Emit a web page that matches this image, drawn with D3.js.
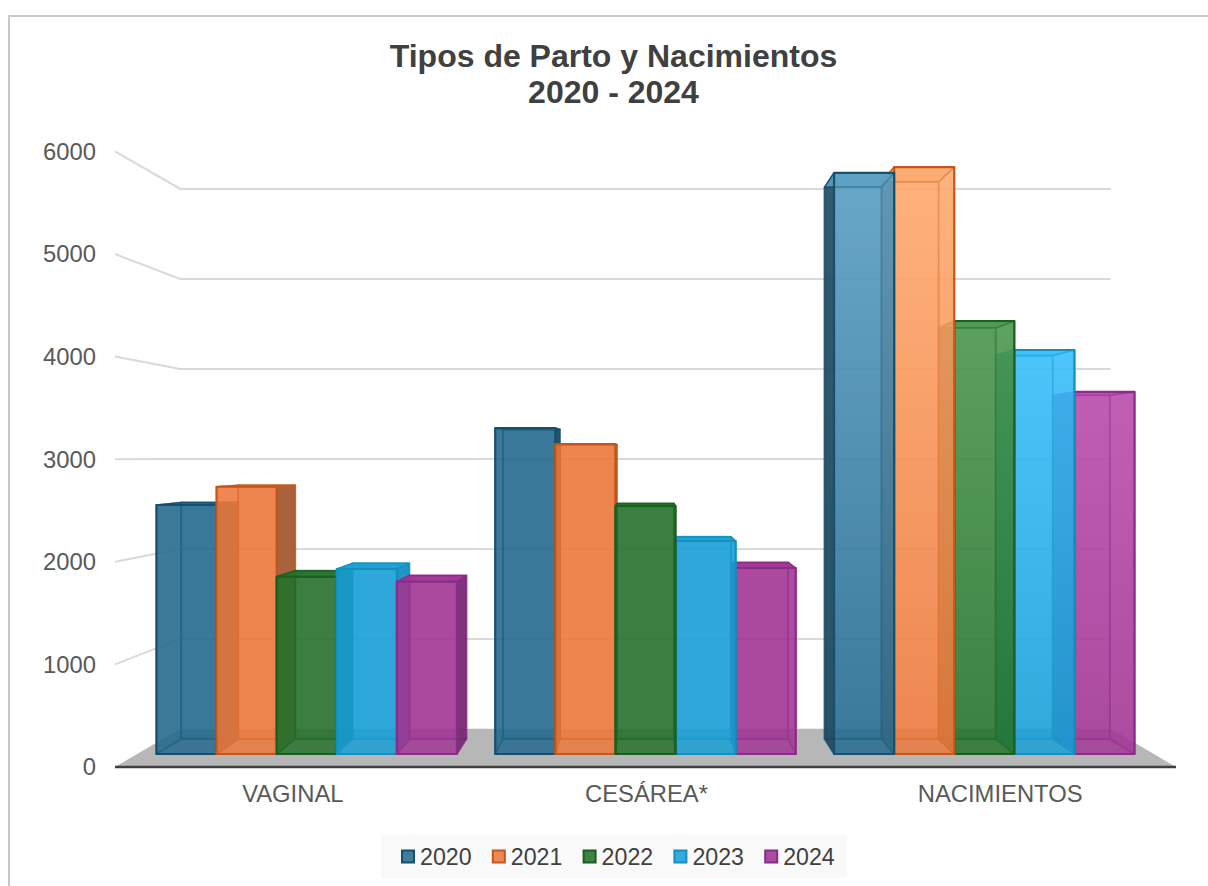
<!DOCTYPE html>
<html><head><meta charset="utf-8">
<script src="https://d3js.org/d3.v7.min.js"></script>
<style>html,body{margin:0;padding:0;background:#fff}svg{display:block}</style></head>
<body><svg id="c" width="1208" height="886"></svg>
<script>
const categories = ["VAGINAL", "CESÁREA*", "NACIMIENTOS"];
const years = ["2020", "2021", "2022", "2023", "2024"];
const v2020 = [2533, 3316, 5913];
const v2021 = [2719, 3153, 5971];
const v2022 = [1803, 2523, 4405];
const v2023 = [1882, 2167, 4110];
const v2024 = [1753, 1892, 3683];
const seriesValues = [v2020, v2021, v2022, v2023, v2024];
const yTicks = [0, 1000, 2000, 3000, 4000, 5000, 6000];
const titleLines = ["Tipos de Parto y Nacimientos", "2020 - 2024"];
const baseColors = ["rgb(36,105,142)", "rgb(236,120,60)", "rgb(36,114,43)", "rgb(24,159,214)", "rgb(160,54,147)"];
const lightColors = ["rgb(89,158,194)", "rgb(255,170,110)", "rgb(74,150,78)", "rgb(56,190,250)", "rgb(185,74,172)"];
const sideColors = ["rgb(30,66,84)", "rgb(150,84,48)", "rgb(24,84,30)", "rgb(20,140,190)", "rgb(110,40,105)"];
const edgeColors = ["#15506f", "#c5561b", "#1a5e20", "#1290c0", "#8c2a8c"];
const gradientCategory = "NACIMIENTOS";

const svg = d3.select("#c");
const FONT = '"Liberation Sans", Arial, sans-serif';
const vp = [645.5, 457];
const depth = {front: 1, barFront: 0.958, barBack: 0.9097, wall: 0.877};
const xGroup = d3.scaleBand().domain(categories).range([115, 1176]);
const xSeries = d3.scaleBand().domain(years).range([20, xGroup.bandwidth() - 20]);
const yScale = d3.scaleLinear().domain([0, 6000]).range([767, 151.4]);
const proj = (X, v, f) => [vp[0] + (X - vp[0]) * f, vp[1] + (yScale(v) - vp[1]) * f];
const pts = a => a.map(p => p.join(",")).join(" ");

svg.append("rect").attr("x", 9).attr("y", 16).attr("width", 1300).attr("height", 900)
  .attr("fill", "#fff").attr("stroke", "#c8c8c8").attr("stroke-width", 2);

// floor
svg.append("polygon").attr("fill", "#b7b7b7").attr("points", pts([
  proj(115, 0, 1), proj(1176, 0, 1), proj(1176, 0, depth.wall), proj(115, 0, depth.wall)]));

// grid
yTicks.filter(d => d > 0).forEach(t => {
  svg.append("polyline").attr("fill", "none").attr("stroke", "#d9d9d9").attr("stroke-width", 2)
    .attr("points", pts([proj(115, t, 1), proj(115, t, depth.wall), proj(1176, t, depth.wall)]));
});

// bars: painted from farthest from the vanishing point to nearest
const defs = svg.append("defs");
const barList = [];
categories.forEach((cat, ci) => {
  years.forEach((yr, si) => {
    const X0 = xGroup(cat) + xSeries(yr);
    barList.push({cat, yr, si, val: seriesValues[si][ci], X0, X1: X0 + xSeries.bandwidth()});
  });
});
barList.sort((a, b) => Math.abs((b.X0 + b.X1) / 2 - vp[0]) - Math.abs((a.X0 + a.X1) / 2 - vp[0]));
barList.forEach(({cat, si, val, X0, X1}) => {
  const F = depth.barFront, B = depth.barBack;
  const q = {
    f00: proj(X0, 0, F), f10: proj(X1, 0, F), f11: proj(X1, val, F), f01: proj(X0, val, F),
    b00: proj(X0, 0, B), b10: proj(X1, 0, B), b11: proj(X1, val, B), b01: proj(X0, val, B)
  };
  let fill = baseColors[si];
  if (cat === gradientCategory) {
    const id = "g" + si;
    const g = defs.append("linearGradient").attr("id", id).attr("gradientUnits", "userSpaceOnUse")
      .attr("x1", 0).attr("x2", 0).attr("y1", q.f01[1]).attr("y2", q.f00[1]);
    g.append("stop").attr("offset", 0).attr("stop-color", lightColors[si]);
    g.append("stop").attr("offset", 1).attr("stop-color", baseColors[si]);
    fill = `url(#${id})`;
  }
  const G = svg.append("g").attr("stroke", edgeColors[si]).attr("stroke-linejoin", "round");
  const face = (arr, color, op, sw, so) => G.append("polygon").attr("points", pts(arr))
    .attr("fill", color).attr("fill-opacity", op).attr("stroke-width", sw).attr("stroke-opacity", so);
  const sideFace = (arr, visible) => visible
    ? face(arr, sideColors[si], 0.8, 1.5, 0.6)
    : face(arr, fill, 0.72, 1.5, 0.6);
  face([q.b00, q.b10, q.b11, q.b01], fill, 0.75, 2, 0.6);
  face([q.f00, q.f10, q.b10, q.b00], fill, 0.6, 1.5, 0.6);
  sideFace([q.f00, q.b00, q.b01, q.f01], X0 > vp[0]);
  sideFace([q.f10, q.b10, q.b11, q.f11], X1 < vp[0]);
  face([q.f01, q.f11, q.b11, q.b01], fill, 0.9, 1.5, 0.9);
  face([q.f00, q.f10, q.f11, q.f01], fill, 0.6, 2.2, 1);
});

// axis line
svg.append("line").attr("x1", 115).attr("x2", 1176).attr("y1", 767).attr("y2", 767)
  .attr("stroke", "#404040").attr("stroke-width", 2.5);

// y tick labels
svg.selectAll(".yl").data(yTicks).join("text").attr("class", "yl")
  .attr("x", 96).attr("y", d => yScale(d)).attr("dy", "0.35em").attr("text-anchor", "end")
  .attr("font-family", FONT).attr("font-size", 23.8).attr("fill", "#595959").text(d => d);

// category labels
svg.selectAll(".xl").data(categories).join("text").attr("class", "xl")
  .attr("x", d => xGroup(d) + xGroup.bandwidth() / 2 + 1).attr("y", 794).attr("dy", "0.35em")
  .attr("text-anchor", "middle").attr("font-family", FONT).attr("font-size", 23.8).attr("fill", "#595959").text(d => d);

// title
svg.selectAll(".tt").data(titleLines).join("text").attr("class", "tt")
  .attr("x", 613.5).attr("y", (d, i) => 67 + i * 36).attr("text-anchor", "middle")
  .attr("font-family", FONT).attr("font-size", 32).attr("font-weight", "bold").attr("fill", "#404040").text(d => d);

// legend
svg.append("rect").attr("x", 381).attr("y", 835).attr("width", 466).attr("height", 43).attr("fill", "#f9f9f9");
const xLegend = d3.scaleBand().domain(years).range([401, 855]);
years.forEach((yr, i) => {
  const x = xLegend(yr);
  svg.append("rect").attr("x", x + 1).attr("y", 850.5).attr("width", 12).attr("height", 12)
    .attr("fill", baseColors[i]).attr("fill-opacity", 0.88).attr("stroke", edgeColors[i]).attr("stroke-width", 2);
  svg.append("text").attr("x", x + 19).attr("y", 864.5).attr("font-family", FONT).attr("font-size", 23.2)
    .attr("fill", "#404040").text(yr);
});
</script></body></html>
